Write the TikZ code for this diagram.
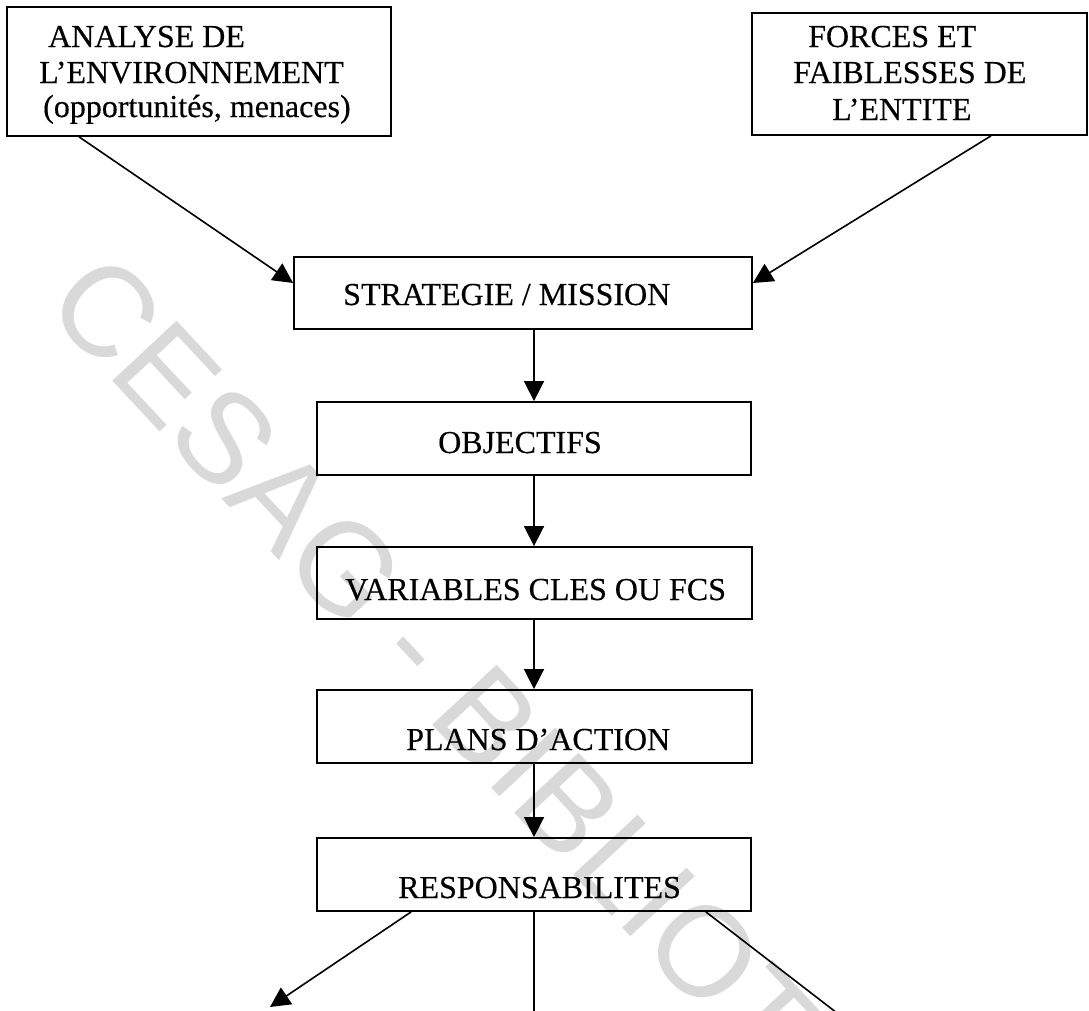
\documentclass[tikz,border=0pt]{standalone}
\usepackage{fontspec}
\setmainfont{Liberation Serif}[FakeBold=0.35]
\newfontfamily\markfont{Liberation Sans}
\usetikzlibrary{arrows.meta}

\tikzset{
  box/.style={draw=black, line width=1.8pt, rectangle, inner sep=0pt},
  label/.style={anchor=base west, inner sep=0pt, font=\fontsize{32}{36}\selectfont},
  link/.style={line width=1.6pt, -{Triangle[length=20pt,width=20pt]}},
  plain/.style={line width=1.6pt},
}

\begin{document}
\begin{tikzpicture}[x=1pt, y=-1pt]
\useasboundingbox (0,0) rectangle (1089,1010);

% faint diagonal stamp across the sheet
\begin{scope}
  \clip (0,0) rectangle (1089,1010);
  \node[anchor=base west, inner sep=0pt, rotate=-47, text=black!15,
        font=\markfont\fontsize{128}{128}\selectfont] (stamp) at (42,306)
        {CESAG - BIBLIOTHEQUE};
\end{scope}

% top inputs
\node[box, minimum width=384pt, minimum height=129pt] (ana) at (199,71.5) {};
\node[label] (ana1) at (48,47) {ANALYSE DE};
\node[label] (ana2) at (39,83) {L’ENVIRONNEMENT};
\node[label] (ana3) at (43,117) {(opportunités, menaces)};

\node[box, minimum width=335pt, minimum height=122pt] (forc) at (919.5,74) {};
\node[label] (forc1) at (808,47) {FORCES ET};
\node[label] (forc2) at (793,83) {FAIBLESSES DE};
\node[label] (forc3) at (832,120) {L’ENTITE};

% main chain
\node[box, minimum width=458pt, minimum height=72pt] (strat) at (523,293) {};
\node[label] (strattxt) at (343,305) {STRATEGIE / MISSION};

\node[box, minimum width=434pt, minimum height=73pt] (obj) at (534,438.5) {};
\node[label] (objtxt) at (438,453) {OBJECTIFS};

\node[box, minimum width=435pt, minimum height=72pt] (var) at (534.5,583) {};
\node[label] (vartxt) at (345,600) {VARIABLES CLES OU FCS};

\node[box, minimum width=435pt, minimum height=73pt] (plans) at (534.5,726.5) {};
\node[label] (planstxt) at (406,750) {PLANS D’ACTION};

\node[box, minimum width=434pt, minimum height=73pt] (resp) at (534,874.5) {};
\node[label] (resptxt) at (398,898) {RESPONSABILITES};

% free ends of the outgoing lines
\coordinate (outL) at (270,1007);
\coordinate (outM) at (534,1020);
\coordinate (outR) at (850,1023);

% connectors
\draw[link] ([xshift=73pt]ana.south west) -- ([yshift=10pt]strat.west);
\draw[link] ([xshift=-97pt]forc.south east) -- ([yshift=10pt]strat.east);
\draw[link] (strat.south -| obj.north) -- (obj.north);
\draw[link] (obj.south) -- (var.north -| obj.south);
\draw[link] (var.south -| obj.south) -- (plans.north -| obj.south);
\draw[link] (plans.south -| obj.south) -- (resp.north -| obj.south);
\draw[link] ([xshift=95pt]resp.south west) -- (outL);
\draw[plain] (resp.south) -- (outM);
\draw[plain] ([xshift=-46pt]resp.south east) -- (outR);
\end{tikzpicture}
\end{document}
